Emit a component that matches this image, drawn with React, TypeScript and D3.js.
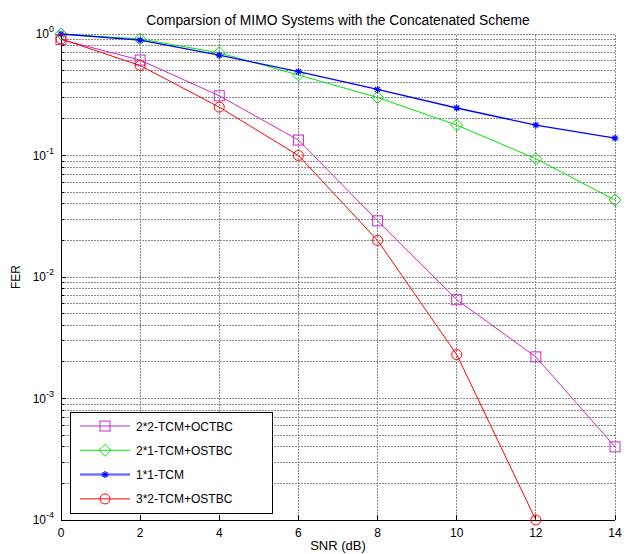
import React, { useEffect, useRef } from "react";
import * as d3 from "d3";

const snr = [0, 2, 4, 6, 8, 10, 12, 14];
const fer2x2 = [0.9, 0.61, 0.31, 0.134, 0.029, 0.0065, 0.0022, 0.0004];
const fer2x1 = [1.0, 0.91, 0.7, 0.46, 0.3, 0.178, 0.094, 0.043];
const fer1x1 = [1.0, 0.89, 0.67, 0.49, 0.35, 0.246, 0.178, 0.139];
const fer3x2 = [0.91, 0.55, 0.25, 0.1, 0.02, 0.0023, 0.0001];

const seriesNames = ["2*2-TCM+OCTBC", "2*1-TCM+OSTBC", "1*1-TCM", "3*2-TCM+OSTBC"];
const xTicks = [0, 2, 4, 6, 8, 10, 12, 14];
const yDecades = [0, -1, -2, -3, -4];

const W = 632;
const H = 554;
const margin = { top: 34, right: 17, bottom: 34, left: 61 };

const App = () => {
  const svgRef = useRef<SVGSVGElement>(null);

  useEffect(() => {
    const svg = d3.select(svgRef.current);
    svg.selectAll("*").remove();

    const series = [
      { name: seriesNames[0], values: fer2x2, color: "#c828c8", marker: "square" },
      { name: seriesNames[1], values: fer2x1, color: "#00e600", marker: "diamond" },
      { name: seriesNames[2], values: fer1x1, color: "#0000ff", marker: "star" },
      { name: seriesNames[3], values: fer3x2, color: "#ff0000", marker: "circle" },
    ];

    const x = d3.scaleLinear().domain([0, 14]).range([margin.left, W - margin.right]);
    const y = d3.scaleLog().domain([1e-4, 1]).range([H - margin.bottom, margin.top]);
    const font = "'Liberation Sans', Arial, sans-serif";

    // grid (dotted gray, MATLAB style)
    const grid = svg.append("g")
      .attr("stroke", "#8a8a8a").attr("stroke-dasharray", "2,1").attr("shape-rendering", "crispEdges");
    yDecades.slice(1).forEach((e) => {
      for (let k = 1; k <= 9; k++) {
        const v = k * Math.pow(10, e);
        grid.append("line")
          .attr("x1", x(0)).attr("x2", x(14))
          .attr("y1", y(v)).attr("y2", y(v));
      }
    });
    grid.append("line").attr("x1", x(0)).attr("x2", x(14)).attr("y1", y(1)).attr("y2", y(1));
    xTicks.forEach((t) => {
      grid.append("line").attr("x1", x(t)).attr("x2", x(t)).attr("y1", y(1e-4)).attr("y2", y(1));
    });

    // axes
    const ax = svg.append("g").attr("shape-rendering", "crispEdges");
    ax.append("line").attr("x1", x(0)).attr("x2", x(14)).attr("y1", y(1e-4)).attr("y2", y(1e-4))
      .attr("stroke", "#000");
    ax.append("line").attr("x1", x(0)).attr("x2", x(0)).attr("y1", y(1e-4)).attr("y2", y(1))
      .attr("stroke", "#000");
    xTicks.forEach((t) => {
      ax.append("line").attr("x1", x(t)).attr("x2", x(t)).attr("y1", y(1e-4)).attr("y2", y(1e-4) - 5)
        .attr("stroke", "#000");
      svg.append("text").attr("x", x(t)).attr("y", y(1e-4) + 17)
        .attr("text-anchor", "middle").attr("font-family", font).attr("font-size", 12)
        .text(String(t));
    });
    yDecades.forEach((e) => {
      for (let k = 1; k <= 9; k++) {
        const v = k * Math.pow(10, e);
        if (v > 1 || v < 1e-4) continue;
        ax.append("line").attr("x1", x(0)).attr("x2", x(0) + (k === 1 ? 5 : 3))
          .attr("y1", y(v)).attr("y2", y(v)).attr("stroke", "#000");
      }
      const tx = svg.append("text").attr("x", x(0) - 7).attr("y", y(Math.pow(10, e)) + 4)
        .attr("text-anchor", "end").attr("font-family", font).attr("font-size", 12);
      tx.append("tspan").text("10");
      tx.append("tspan").attr("dy", -6).attr("font-size", 9).text(String(e));
    });

    // lines and markers
    const drawMarker = (g, type, cx, cy, color) => {
      if (type === "square") {
        g.append("rect").attr("x", cx - 5).attr("y", cy - 5).attr("width", 10).attr("height", 10)
          .attr("fill", "none").attr("stroke", color);
      } else if (type === "diamond") {
        g.append("path").attr("d", `M${cx},${cy - 6}L${cx + 6},${cy}L${cx},${cy + 6}L${cx - 6},${cy}Z`)
          .attr("fill", "none").attr("stroke", color);
      } else if (type === "circle") {
        g.append("circle").attr("cx", cx).attr("cy", cy).attr("r", 5)
          .attr("fill", "none").attr("stroke", color);
      } else {
        g.append("path")
          .attr("d", `M${cx - 3.5},${cy}H${cx + 3.5}M${cx},${cy - 3.5}V${cy + 3.5}M${cx - 2.5},${cy - 2.5}L${cx + 2.5},${cy + 2.5}M${cx - 2.5},${cy + 2.5}L${cx + 2.5},${cy - 2.5}`)
          .attr("stroke", color).attr("stroke-width", 1.2).attr("fill", "none");
      }
    };

    const lineGen = d3.line<number>().x((d, i) => x(snr[i])).y((d) => y(d));
    series.forEach((s) => {
      const g = svg.append("g");
      g.append("path").attr("d", lineGen(s.values)).attr("fill", "none")
        .attr("stroke", s.color).attr("stroke-width", s.marker === "star" ? 1.3 : 1);
      s.values.forEach((v, i) => drawMarker(g, s.marker, x(snr[i]), y(v), s.color));
    });

    // title and labels
    svg.append("text").attr("x", (x(0) + x(14)) / 2).attr("y", 25)
      .attr("text-anchor", "middle").attr("font-family", font).attr("font-size", 13.8)
      .text("Comparsion of MIMO Systems with the Concatenated Scheme");
    svg.append("text").attr("x", (x(0) + x(14)) / 2).attr("y", 550)
      .attr("text-anchor", "middle").attr("font-family", font).attr("font-size", 13)
      .text("SNR (dB)");
    svg.append("text").attr("transform", `translate(20,${(y(1) + y(1e-4)) / 2}) rotate(-90)`)
      .attr("text-anchor", "middle").attr("font-family", font).attr("font-size", 12)
      .text("FER");

    // legend
    const lg = svg.append("g");
    lg.append("rect").attr("x", 70).attr("y", 412).attr("width", 202).attr("height", 101)
      .attr("fill", "#fff").attr("stroke", "#000").attr("shape-rendering", "crispEdges");
    series.forEach((s, i) => {
      const ly = 426 + i * 24.3;
      lg.append("line").attr("x1", 80).attr("x2", 130).attr("y1", ly).attr("y2", ly)
        .attr("stroke", s.color).attr("stroke-width", s.marker === "star" ? 2.5 : 1)
        .attr("stroke-opacity", s.marker === "star" ? 0.55 : 1);
      drawMarker(lg, s.marker, 105, ly, s.color);
      lg.append("text").attr("x", 136).attr("y", ly + 4.5).attr("font-family", font)
        .attr("font-size", 12).text(s.name);
    });
  }, []);

  return (
    <svg
      ref={svgRef}
      width={W}
      height={H}
      style={{ position: "absolute", left: 0, top: 0, display: "block", background: "#fff" }}
    />
  );
};

export default App;
